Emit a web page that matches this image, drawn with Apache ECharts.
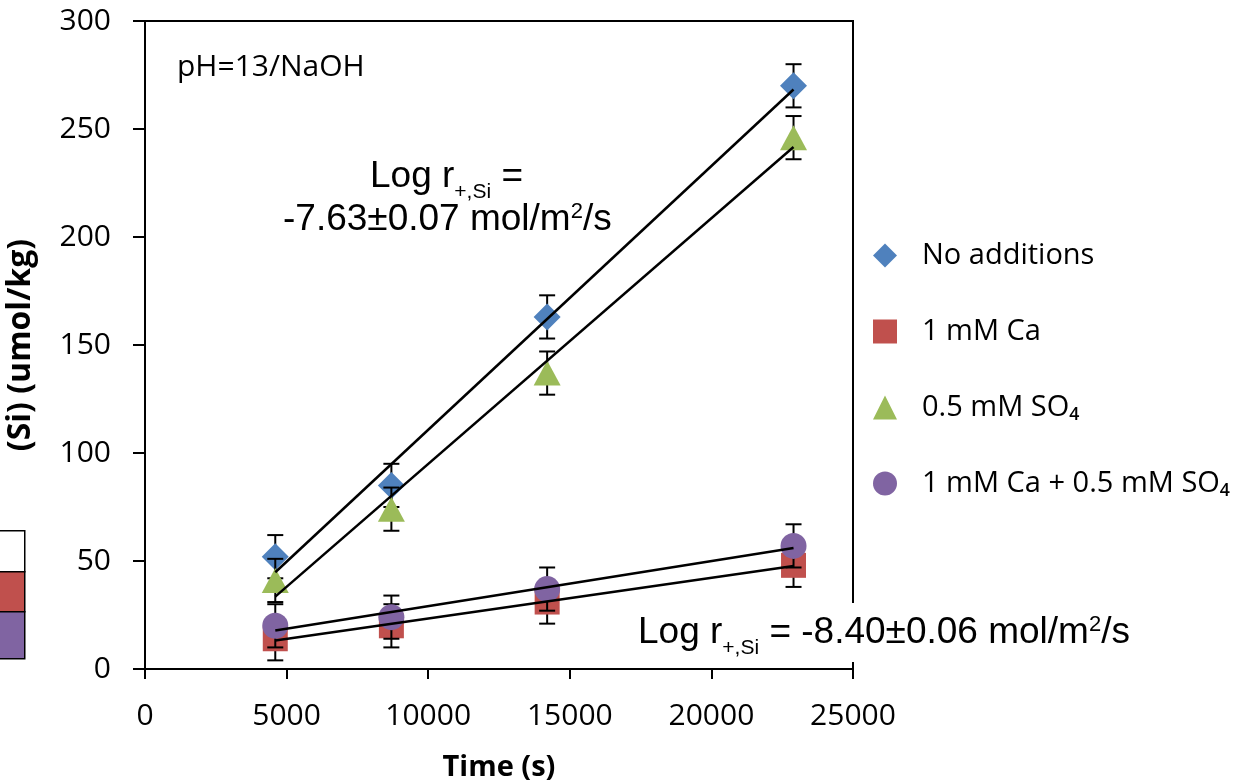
<!DOCTYPE html>
<html>
<head>
<meta charset="utf-8">
<title>Si release vs time</title>
<script src="https://cdn.jsdelivr.net/npm/echarts@6/dist/echarts.min.js"></script>
<style>
  html, body { margin: 0; padding: 0; background: #fff; }
  #chart { width: 1257px; height: 784px; }
</style>
</head>
<body>
<div id="chart"></div>
<script>
// sampling times (s)
const times = [4600, 8700, 14200, 22900]

// (Si) umol/kg for each solution
const noAdditions = [52, 85, 163, 270]
const caOnly = [14, 20, 31, 48]
const so4Only = [41, 74, 137, 246]
const caSo4 = [20, 24, 37, 57]

// +/- error on each point
const errNoAdditions = [10, 10, 10, 10]
const errCa = [10, 10, 10, 10]
const errSo4 = [10, 10, 10, 10]
const errCaSo4 = [10, 10, 10, 10]

const xTicks = { min: 0, max: 25000, step: 5000 }
const yTicks = { min: 0, max: 300, step: 50 }

const names = ['No additions', '1 mM Ca', '0.5 mM SO₄', '1 mM Ca + 0.5 mM SO₄']
const colors = ['#4F81BD', '#C0504D', '#9BBB59', '#8064A2']
const symbols = ['diamond', 'rect', 'triangle', 'circle']
const symbolSizes = [27, 25, [27, 25], 26]

const allValues = [noAdditions, caOnly, so4Only, caSo4]
const allErrors = [errNoAdditions, errCa, errSo4, errCaSo4]

// least squares fit, drawn between first and last time
function fitLine(xs, ys) {
  const n = xs.length
  const mx = xs.reduce((a, b) => a + b, 0) / n
  const my = ys.reduce((a, b) => a + b, 0) / n
  let sxy = 0, sxx = 0
  for (let i = 0; i < n; i++) {
    sxy += (xs[i] - mx) * (ys[i] - my)
    sxx += (xs[i] - mx) * (xs[i] - mx)
  }
  const k = sxy / sxx
  const b = my - k * mx
  const x0 = Math.min(...xs), x1 = Math.max(...xs)
  return [[x0, k * x0 + b], [x1, k * x1 + b]]
}

function renderErr(params, api) {
  const x = api.value(0)
  const lo = api.coord([x, api.value(1)])
  const hi = api.coord([x, api.value(2)])
  const hw = 8
  const st = { stroke: '#000', lineWidth: 2 }
  return {
    type: 'group',
    children: [
      { type: 'line', shape: { x1: lo[0], y1: lo[1], x2: hi[0], y2: hi[1] }, style: st },
      { type: 'line', shape: { x1: hi[0] - hw, y1: hi[1], x2: hi[0] + hw, y2: hi[1] }, style: st },
      { type: 'line', shape: { x1: lo[0] - hw, y1: lo[1], x2: lo[0] + hw, y2: lo[1] }, style: st }
    ]
  }
}

const series = []
allValues.forEach((vals, i) => {
  series.push({
    name: 'err' + i,
    type: 'custom',
    renderItem: renderErr,
    encode: { x: 0, y: [1, 2] },
    data: vals.map((v, j) => [times[j], v - allErrors[i][j], v + allErrors[i][j]]),
    z: 2 + i * 2,
    silent: true
  })
  series.push({
    name: names[i],
    type: 'scatter',
    symbol: symbols[i],
    symbolSize: symbolSizes[i],
    itemStyle: { color: colors[i], opacity: 1 },
    data: vals.map((v, j) => [times[j], v]),
    z: 3 + i * 2
  })
})
allValues.forEach((vals, i) => {
  series.push({
    name: 'fit' + i,
    type: 'line',
    symbol: 'none',
    lineStyle: { color: '#000', width: 2.5 },
    data: fitLine(times, vals),
    z: 20,
    silent: true
  })
})

// lay out a line of Arial-like text with sub/superscripts as separate pieces
const measureCtx = document.createElement('canvas').getContext('2d')
function textRun(x, baseY, pieces, z) {
  const out = []
  let cx = x
  pieces.forEach(p => {
    measureCtx.font = p.size + 'px "Liberation Sans"'
    const w = measureCtx.measureText(p.t).width
    out.push({
      type: 'text',
      x: cx,
      y: baseY + (p.dy || 0) - 0.35 * p.size,
      z: z,
      style: {
        text: p.t, fontFamily: 'Liberation Sans', fontSize: p.size,
        fill: '#000', align: 'left', verticalAlign: 'middle'
      }
    })
    cx += w
  })
  return out
}

const chart = echarts.init(document.getElementById('chart'))

const option = {
  animation: false,
  backgroundColor: '#fff',
  grid: {
    left: 145, right: 404, top: 21, bottom: 115,
    outerBoundsMode: 'none',
    show: true, borderColor: '#000', borderWidth: 2, backgroundColor: 'transparent'
  },
  legend: {
    orient: 'vertical',
    left: 868,
    top: 236,
    itemWidth: 24,
    itemHeight: 24,
    itemGap: 47,
    textStyle: { fontFamily: 'Open Sans', fontSize: 29, color: '#000', padding: [0, 0, 0, 20] },
    data: names.map((n, i) => ({ name: n, icon: symbols[i] }))
  },
  xAxis: {
    type: 'value',
    min: xTicks.min, max: xTicks.max, interval: xTicks.step,
    name: 'Time (s)',
    nameLocation: 'middle',
    nameGap: 84,
    nameTextStyle: { fontFamily: 'Open Sans', fontWeight: 'bold', fontSize: 29, color: '#000' },
    axisLine: { lineStyle: { color: '#000', width: 2 } },
    axisTick: { length: 10, lineStyle: { color: '#000', width: 2 } },
    axisLabel: { fontFamily: 'Open Sans', fontSize: 30, color: '#000', margin: 32, formatter: v => String(v) },
    splitLine: { show: false }
  },
  yAxis: {
    type: 'value',
    min: yTicks.min, max: yTicks.max, interval: yTicks.step,
    name: '(Si) (umol/kg)',
    nameLocation: 'middle',
    nameGap: 108,
    nameTextStyle: { fontFamily: 'Open Sans', fontWeight: 'bold', fontSize: 32, color: '#000' },
    axisLine: { lineStyle: { color: '#000', width: 2 } },
    axisTick: { length: 12, lineStyle: { color: '#000', width: 2 } },
    axisLabel: { fontFamily: 'Open Sans', fontSize: 30, color: '#000', margin: 34 },
    splitLine: { show: false }
  },
  graphic: [
    // cropped table fragment at far left
    { type: 'rect', left: -2, top: 530, shape: { width: 26, height: 41 }, style: { fill: '#fff', stroke: '#000', lineWidth: 1.5 } },
    { type: 'rect', left: -2, top: 571, shape: { width: 26, height: 40 }, style: { fill: '#C0504D', stroke: '#000', lineWidth: 1.5 } },
    { type: 'rect', left: -2, top: 611, shape: { width: 26, height: 47 }, style: { fill: '#8064A2', stroke: '#000', lineWidth: 1.5 } },
    {
      type: 'text', left: 177, top: 52, z: 50,
      style: { text: 'pH=13/NaOH', fontFamily: 'Open Sans', fontSize: 30, fill: '#000' }
    },
    ...textRun(370, 190, [
      { t: 'Log r', size: 37 },
      { t: '+,Si', size: 21, dy: 10 },
      { t: ' =', size: 37 }
    ], 50),
    ...textRun(283, 233, [
      { t: '-7.63±0.07 mol/m', size: 37 },
      { t: '2', size: 22, dy: -13 },
      { t: '/s', size: 37 }
    ], 50),
    // white box behind the lower rate label
    { type: 'rect', left: 633, top: 603, z: 90, shape: { width: 510, height: 59 }, style: { fill: '#fff' } },
    ...textRun(638, 646, [
      { t: 'Log r', size: 37 },
      { t: '+,Si', size: 21, dy: 10 },
      { t: ' = -8.40±0.06 mol/m', size: 37 },
      { t: '2', size: 22, dy: -13 },
      { t: '/s', size: 37 }
    ], 100)
  ],
  series: series
}

chart.setOption(option)
</script>
</body>
</html>
